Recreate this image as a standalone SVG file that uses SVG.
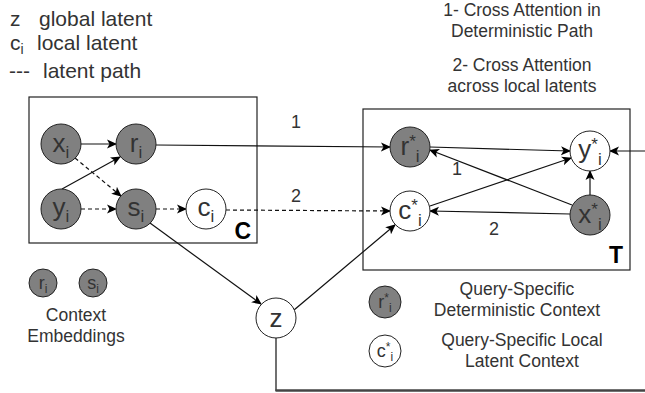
<svg xmlns="http://www.w3.org/2000/svg" width="645" height="393" viewBox="0 0 645 393">
  <style>
    text { font-family: "Liberation Sans", Arial, sans-serif; fill: #333; }
    .node { stroke: #222; stroke-width: 1; }
    .obs { fill: #808080; }
    .lat { fill: #fff; }
    .lbl { font-size: 26px; }
    .sub { font-size: 17px; }
    .edge { fill: none; stroke: #111; stroke-width: 1.2; }
    .dash { stroke-dasharray: 4 3; }
    .arr { marker-end: url(#arrow); }
    .cap { font-size: 17.5px; text-anchor: middle; }
    .key { font-size: 21px; }
    .plate { fill: none; stroke: #222; stroke-width: 1.2; }
    .plateLbl { font-size: 23px; font-weight: bold; fill: #000; text-anchor: end; }
    .num { font-size: 18px; text-anchor: middle; }
  </style>
  <defs>
    <marker id="arrow" viewBox="0 0 10 10" refX="9" refY="5" markerWidth="10" markerHeight="10" markerUnits="userSpaceOnUse" orient="auto">
      <path d="M0,0.5 L10,5 L0,9.5 L2.5,5 Z" fill="#000"/>
    </marker>
  </defs>

  <!-- key, top left -->
  <g id="key">
    <text class="key" x="10" y="26">z</text>
    <text class="key" x="39" y="26">global latent</text>
    <text class="key" x="10" y="50">c<tspan font-size="14" dy="4">i</tspan></text>
    <text class="key" x="37" y="50">local latent</text>
    <text class="key" x="9" y="78">---</text>
    <text class="key" x="43" y="78">latent path</text>
  </g>

  <!-- attention notes, top right -->
  <g id="notes">
    <text class="cap" x="522" y="16">1- Cross Attention in</text>
    <text class="cap" x="522" y="37">Deterministic Path</text>
    <text class="cap" x="522" y="71">2- Cross Attention</text>
    <text class="cap" x="522" y="92">across local latents</text>
  </g>

  <!-- plates -->
  <g id="plate-C">
    <rect class="plate" x="29" y="97" width="228" height="146"/>
    <text class="plateLbl" x="251" y="239">C</text>
  </g>
  <g id="plate-T">
    <rect class="plate" x="363" y="109" width="267" height="161"/>
    <text class="plateLbl" x="623" y="263">T</text>
  </g>

  <!-- connectors -->
  <g id="connectors">
    <line class="edge arr" x1="81" y1="144" x2="116" y2="144"/>
    <line class="edge arr" x1="62" y1="189" x2="120" y2="157"/>
    <line class="edge arr dash" x1="75" y1="158" x2="121" y2="196"/>
    <line class="edge arr dash" x1="81" y1="209" x2="116" y2="209"/>
    <line class="edge arr dash" x1="156" y1="209" x2="186" y2="209"/>
    <line class="edge arr" x1="156" y1="145" x2="390" y2="147"/>
    <line class="edge arr dash" x1="226" y1="210" x2="390" y2="211"/>
    <line class="edge arr" x1="150" y1="223" x2="261" y2="304"/>
    <line class="edge arr" x1="294" y1="310" x2="395" y2="225"/>
    <line class="edge arr" x1="430" y1="147" x2="570" y2="151"/>
    <line class="edge arr" x1="572" y1="205" x2="430" y2="150"/>
    <line class="edge arr" x1="430" y1="206" x2="571" y2="158"/>
    <line class="edge arr" x1="570" y1="214" x2="430" y2="211"/>
    <line class="edge arr" x1="590" y1="195" x2="590" y2="171"/>
    <line class="edge arr" x1="645" y1="151" x2="610" y2="151"/>
    <line class="edge" x1="276" y1="338" x2="276" y2="391"/>
    <line x1="275.5" y1="390.5" x2="645" y2="390.5" stroke="#444" stroke-width="2.5"/>
    <text class="num" x="296" y="128">1</text>
    <text class="num" x="296" y="202">2</text>
    <text class="num" x="457" y="175">1</text>
    <text class="num" x="494" y="235">2</text>
  </g>

  <!-- context set nodes -->
  <g id="x_i">
    <circle class="node obs" cx="61" cy="144" r="20"/>
    <text class="lbl" x="61" y="152" text-anchor="middle">x<tspan class="sub" dy="6">i</tspan></text>
  </g>
  <g id="r_i">
    <circle class="node obs" cx="136" cy="144" r="20"/>
    <text class="lbl" x="136" y="152" text-anchor="middle">r<tspan class="sub" dy="6">i</tspan></text>
  </g>
  <g id="y_i">
    <circle class="node obs" cx="61" cy="209" r="20"/>
    <text class="lbl" x="61" y="216" text-anchor="middle">y<tspan class="sub" dy="6">i</tspan></text>
  </g>
  <g id="s_i">
    <circle class="node obs" cx="136" cy="209" r="20"/>
    <text class="lbl" x="136" y="216" text-anchor="middle">s<tspan class="sub" dy="6">i</tspan></text>
  </g>
  <g id="c_i">
    <circle class="node lat" cx="206" cy="209" r="20"/>
    <text class="lbl" x="206" y="216" text-anchor="middle">c<tspan class="sub" dy="6">i</tspan></text>
  </g>

  <!-- global latent -->
  <g id="z">
    <circle class="node lat" cx="276" cy="318" r="20"/>
    <text class="lbl" x="276" y="327" text-anchor="middle">z</text>
  </g>

  <!-- target set nodes -->
  <g id="r_star_i">
    <circle class="node obs" cx="410" cy="147" r="20"/>
    <text class="lbl" x="410" y="155" text-anchor="middle">r<tspan class="sub" dy="-8">*</tspan><tspan class="sub" dy="15">i</tspan></text>
  </g>
  <g id="c_star_i">
    <circle class="node lat" cx="410" cy="211" r="20"/>
    <text class="lbl" x="410" y="219" text-anchor="middle">c<tspan class="sub" dy="-8">*</tspan><tspan class="sub" dy="15">i</tspan></text>
  </g>
  <g id="y_star_i">
    <circle class="node lat" cx="590" cy="151" r="20"/>
    <text class="lbl" x="590" y="158" text-anchor="middle">y<tspan class="sub" dy="-8">*</tspan><tspan class="sub" dy="15">i</tspan></text>
  </g>
  <g id="x_star_i">
    <circle class="node obs" cx="590" cy="215" r="20"/>
    <text class="lbl" x="590" y="223" text-anchor="middle">x<tspan class="sub" dy="-8">*</tspan><tspan class="sub" dy="15">i</tspan></text>
  </g>

  <!-- embeddings key -->
  <g id="key-context">
    <circle class="node obs" cx="43" cy="283" r="14"/>
    <text x="43" y="289" font-size="18" text-anchor="middle">r<tspan font-size="12" dy="4">i</tspan></text>
    <circle class="node obs" cx="93" cy="283" r="14"/>
    <text x="93" y="289" font-size="18" text-anchor="middle">s<tspan font-size="12" dy="4">i</tspan></text>
    <text class="cap" x="76" y="321">Context</text>
    <text class="cap" x="76" y="342">Embeddings</text>
  </g>
  <g id="key-query">
    <circle class="node obs" cx="385" cy="302" r="16"/>
    <text x="385" y="308" font-size="18" text-anchor="middle">r<tspan font-size="12" dy="-6">*</tspan><tspan font-size="12" dy="10">i</tspan></text>
    <text class="cap" x="517" y="295">Query-Specific</text>
    <text class="cap" x="517" y="316">Deterministic Context</text>
    <circle class="node lat" cx="385" cy="351" r="16"/>
    <text x="385" y="357" font-size="18" text-anchor="middle">c<tspan font-size="12" dy="-6">*</tspan><tspan font-size="12" dy="10">i</tspan></text>
    <text class="cap" x="522" y="346">Query-Specific Local</text>
    <text class="cap" x="522" y="367">Latent Context</text>
  </g>
</svg>
